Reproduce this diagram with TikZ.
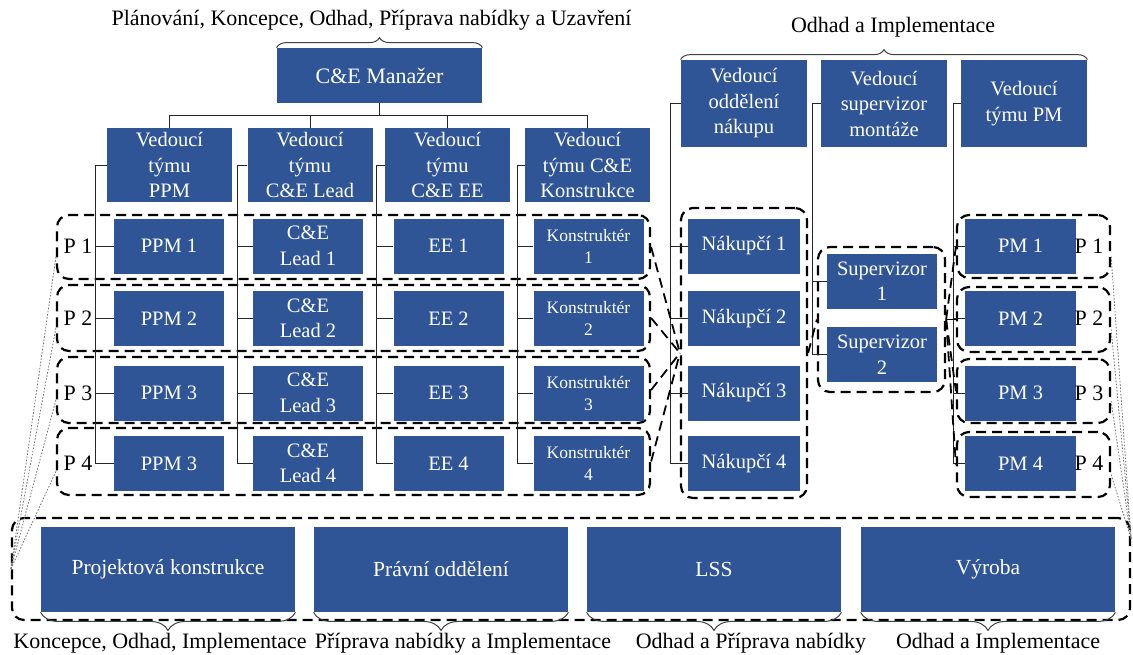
\documentclass[tikz,border=0pt]{standalone}
\usepackage{fontspec}
\setmainfont{Liberation Serif}
\usetikzlibrary{positioning,decorations.pathreplacing,calc}
\definecolor{boxblue}{RGB}{47,85,151}

\begin{document}
\begin{tikzpicture}[x=0.5pt,y=-0.5pt,
  every node/.style={font=\fontsize{10.25}{12.75}\selectfont},
  lbl/.style={font=\fontsize{11}{13}\selectfont},
  box/.style={fill=boxblue,text=white,align=center,inner sep=0pt},
  lead/.style={box,minimum width=62.5pt,minimum height=37pt},
  rlead/.style={box,minimum width=63pt,minimum height=43.5pt},
  cell/.style={box,minimum width=55pt,minimum height=27.5pt},
  kcell/.style={cell,font=\fontsize{8.75}{11}\selectfont},
  bbox/.style={box,minimum width=127pt,minimum height=42.5pt,
    font=\fontsize{10.75}{13}\selectfont},
  grp/.style={draw,line width=1.1pt,dash pattern=on 5pt off 3pt,
    rounded corners=6pt,inner sep=0pt},
  link/.style={draw=black!85,line width=.5pt},
  dlink/.style={line width=.9pt,dash pattern=on 5pt off 3pt},
  dots/.style={draw=black!55,line width=.4pt,dash pattern=on .8pt off .8pt},
  brc/.style={decorate,decoration={brace,amplitude=#1},draw=black!75,
    line width=.5pt},
  brc/.default=5pt]
 \useasboundingbox (0,0) rectangle (1133,654);
 % dashed groups
 \node[grp,minimum width=296.5pt,minimum height=32pt] (row1) at (353.5,247) {};
 \node[grp,minimum width=296.5pt,minimum height=33pt] (row2) at (353.5,318) {};
 \node[grp,minimum width=296.5pt,minimum height=33pt] (row3) at (353.5,390) {};
 \node[grp,minimum width=296.5pt,minimum height=33.5pt] (row4) at (353.5,461.5) {};
 \node[grp,minimum width=63pt,minimum height=145pt] (nakgrp) at (744,353) {};
 \node[grp,minimum width=63.5pt,minimum height=72.5pt] (supgrp) at (881.5,319.5) {};
 \node[grp,minimum width=76.5pt,minimum height=31.5pt] (pmg1) at (1033.5,246.5) {};
 \node[grp,minimum width=76.5pt,minimum height=32.5pt] (pmg2) at (1033.5,319.5) {};
 \node[grp,minimum width=76.5pt,minimum height=32pt] (pmg3) at (1033.5,391) {};
 \node[grp,minimum width=76.5pt,minimum height=32.5pt] (pmg4) at (1033.5,464.5) {};
 \node[grp,minimum width=559pt,minimum height=51pt] (botgrp) at (571,569) {};

 % heads
 \node[box,lbl,text=white,minimum width=102.5pt,minimum height=27.5pt] (mgr)
   at (379.5,75.5) {C\&E Manažer};
 \node[lead] (tl1) at (169.5,165) {Vedoucí\\týmu\\PPM};
 \node[lead] (tl2) at (310,165) {Vedoucí\\týmu\\C\&E Lead};
 \node[lead] (tl3) at (447.5,165) {Vedoucí\\týmu\\C\&E EE};
 \node[lead] (tl4) at (587.5,165) {Vedoucí\\týmu C\&E\\Konstrukce};
 \node[rlead] (vnak) at (744,103.5) {Vedoucí\\oddělení\\nákupu};
 \node[rlead] (vsup) at (884,103.5) {Vedoucí\\supervizor\\montáže};
 \node[rlead] (vpm) at (1024,103.5) {Vedoucí\\týmu PM};

 % project rows
 \node[cell] (ppm1) at (169,246) {PPM 1};
 \node[cell] (ppm2) at (169,318.5) {PPM 2};
 \node[cell] (ppm3) at (169,393) {PPM 3};
 \node[cell] (ppm4) at (169,463.5) {PPM 3};
 \node[cell] (ld1) at (308,246) {C\&E\\Lead 1};
 \node[cell] (ld2) at (308,318.5) {C\&E\\Lead 2};
 \node[cell] (ld3) at (308,393) {C\&E\\Lead 3};
 \node[cell] (ld4) at (308,463.5) {C\&E\\Lead 4};
 \node[cell] (ee1) at (448.5,246) {EE 1};
 \node[cell] (ee2) at (448.5,318.5) {EE 2};
 \node[cell] (ee3) at (448.5,393) {EE 3};
 \node[cell] (ee4) at (448.5,463.5) {EE 4};
 \node[kcell] (ko1) at (588.5,246) {Konstruktér\\1};
 \node[kcell] (ko2) at (588.5,318.5) {Konstruktér\\2};
 \node[kcell] (ko3) at (588.5,393) {Konstruktér\\3};
 \node[kcell] (ko4) at (588.5,463.5) {Konstruktér\\4};
 \node[cell,minimum width=56pt] (nak1) at (744,246) {Nákupčí 1};
 \node[cell,minimum width=56pt] (nak2) at (744,318.5) {Nákupčí 2};
 \node[cell,minimum width=56pt] (nak3) at (744,393) {Nákupčí 3};
 \node[cell,minimum width=56pt] (nak4) at (744,463.5) {Nákupčí 4};
 \node[cell] (sup1) at (882,281) {Supervizor\\1};
 \node[cell] (sup2) at (882,354.5) {Supervizor\\2};
 \node[cell,minimum width=55.5pt] (pm1) at (1020.5,246) {PM 1};
 \node[cell,minimum width=55.5pt] (pm2) at (1020.5,318.5) {PM 2};
 \node[cell,minimum width=55.5pt] (pm3) at (1020.5,393) {PM 3};
 \node[cell,minimum width=55.5pt] (pm4) at (1020.5,463.5) {PM 4};
 \node[lbl] (p1l) at (78,246) {P 1};
 \node[lbl] (p2l) at (78,318.5) {P 2};
 \node[lbl] (p3l) at (78,393) {P 3};
 \node[lbl] (p4l) at (78,463.5) {P 4};
 \node[lbl] (p1r) at (1089,246) {P 1};
 \node[lbl] (p2r) at (1089,318.5) {P 2};
 \node[lbl] (p3r) at (1089,393) {P 3};
 \node[lbl] (p4r) at (1089,463.5) {P 4};

 % departments
 \node[bbox] (pk) at (168,569.5) {Projektová konstrukce};
 \node[bbox] (po) at (441,569.5) {Právní oddělení};
 \node[bbox] (lss) at (714,569.5) {LSS};
 \node[bbox] (vyr) at (988,569.5) {Výroba};

 % phase labels
 \node[lbl] (ph1) at (371.5,20) {Plánování, Koncepce, Odhad, Příprava nabídky a Uzavření};
 \node[lbl] (ph2) at (893,27) {Odhad a Implementace};
 \node[lbl] (ph3) at (160,643) {Koncepce, Odhad, Implementace};
 \node[lbl] (ph4) at (463,643) {Příprava nabídky a Implementace};
 \node[lbl] (ph5) at (751,643) {Odhad a Příprava nabídky};
 \node[lbl] (ph6) at (998,643) {Odhad a Implementace};
 \draw[brc] (mgr.north west) -- (mgr.north east);
 \draw[brc] (vnak.north west) -- (vpm.north east);
 \draw[brc=9pt] (pk.south east) -- (pk.south west);
 \draw[brc=9pt] (po.south east) -- (po.south west);
 \draw[brc=9pt] (lss.south east) -- (lss.south west);
 \draw[brc=9pt] (vyr.south east) -- (vyr.south west);

 % tree lines
 \coordinate (bus) at (379.5,115);
 \draw[link] (mgr.south) -- (bus);
 \draw[link] (bus) -| (tl1.north);
 \draw[link] (bus) -| (tl2.north);
 \draw[link] (bus) -| (tl3.north);
 \draw[link] (bus) -| (tl4.north);
 \draw[link] (tl1.west) -- ++(-11,0) coordinate (v1) |- (ppm4.west);
 \draw[link] (ppm1.west) -- (ppm1.west -| v1) (ppm2.west) -- (ppm2.west -| v1)
   (ppm3.west) -- (ppm3.west -| v1);
 \draw[link] (tl2.west) -- ++(-10,0) coordinate (v2) |- (ld4.west);
 \draw[link] (ld1.west) -- (ld1.west -| v2) (ld2.west) -- (ld2.west -| v2)
   (ld3.west) -- (ld3.west -| v2);
 \draw[link] (tl3.west) -- ++(-8,0) coordinate (v3) |- (ee4.west);
 \draw[link] (ee1.west) -- (ee1.west -| v3) (ee2.west) -- (ee2.west -| v3)
   (ee3.west) -- (ee3.west -| v3);
 \draw[link] (tl4.west) -- ++(-7,0) coordinate (v4) |- (ko4.west);
 \draw[link] (ko1.west) -- (ko1.west -| v4) (ko2.west) -- (ko2.west -| v4)
   (ko3.west) -- (ko3.west -| v4);
 \draw[link] (vnak.west) -- ++(-10,0) coordinate (v5) |- (nak4.west);
 \draw[link] (nak1.west) -- (nak1.west -| v5) (nak2.west) -- (nak2.west -| v5)
   (nak3.west) -- (nak3.west -| v5);
 \draw[link] (vsup.west) -- ++(-8,0) coordinate (v6) |- (sup2.west);
 \draw[link] (sup1.west) -- (sup1.west -| v6);
 \draw[link] (vpm.west) -- ++(-7,0) coordinate (v7) |- (pm4.west);
 \draw[link] (pm1.west) -- (pm1.west -| v7) (pm2.west) -- (pm2.west -| v7)
   (pm3.west) -- (pm3.west -| v7);

 % dashed links between groups
 \draw[dlink] (row1.east) -- (nakgrp.west);
 \draw[dlink] (row2.east) -- (nakgrp.west);
 \draw[dlink] (row3.east) -- (nakgrp.west);
 \draw[dlink] (row4.east) -- (nakgrp.west);
 \draw[dlink] (nakgrp.east) -- (supgrp.west);
 \draw[dlink] (supgrp.east) -- (pmg1.west);
 \draw[dlink] (supgrp.east) -- (pmg2.west);
 \draw[dlink] (supgrp.east) -- (pmg3.west);
 \draw[dlink] (supgrp.east) -- (pmg4.west);

 % dotted links to departments
 \draw[dots] ([yshift=-5pt]row1.west) -- (botgrp.west);
 \draw[dots] ([yshift=-5pt]row2.west) -- (botgrp.west);
 \draw[dots] ([yshift=-5pt]row3.west) -- (botgrp.west);
 \draw[dots] ([yshift=-5pt]row4.west) -- (botgrp.west);
 \draw[dots] ([yshift=-5pt]pmg1.east) -- ([yshift=15pt]botgrp.east);
 \draw[dots] ([yshift=-5pt]pmg2.east) -- ([yshift=15pt]botgrp.east);
 \draw[dots] ([yshift=-5pt]pmg3.east) -- ([yshift=15pt]botgrp.east);
 \draw[dots] ([yshift=-5pt]pmg4.east) -- ([yshift=15pt]botgrp.east);
\end{tikzpicture}
\end{document}
